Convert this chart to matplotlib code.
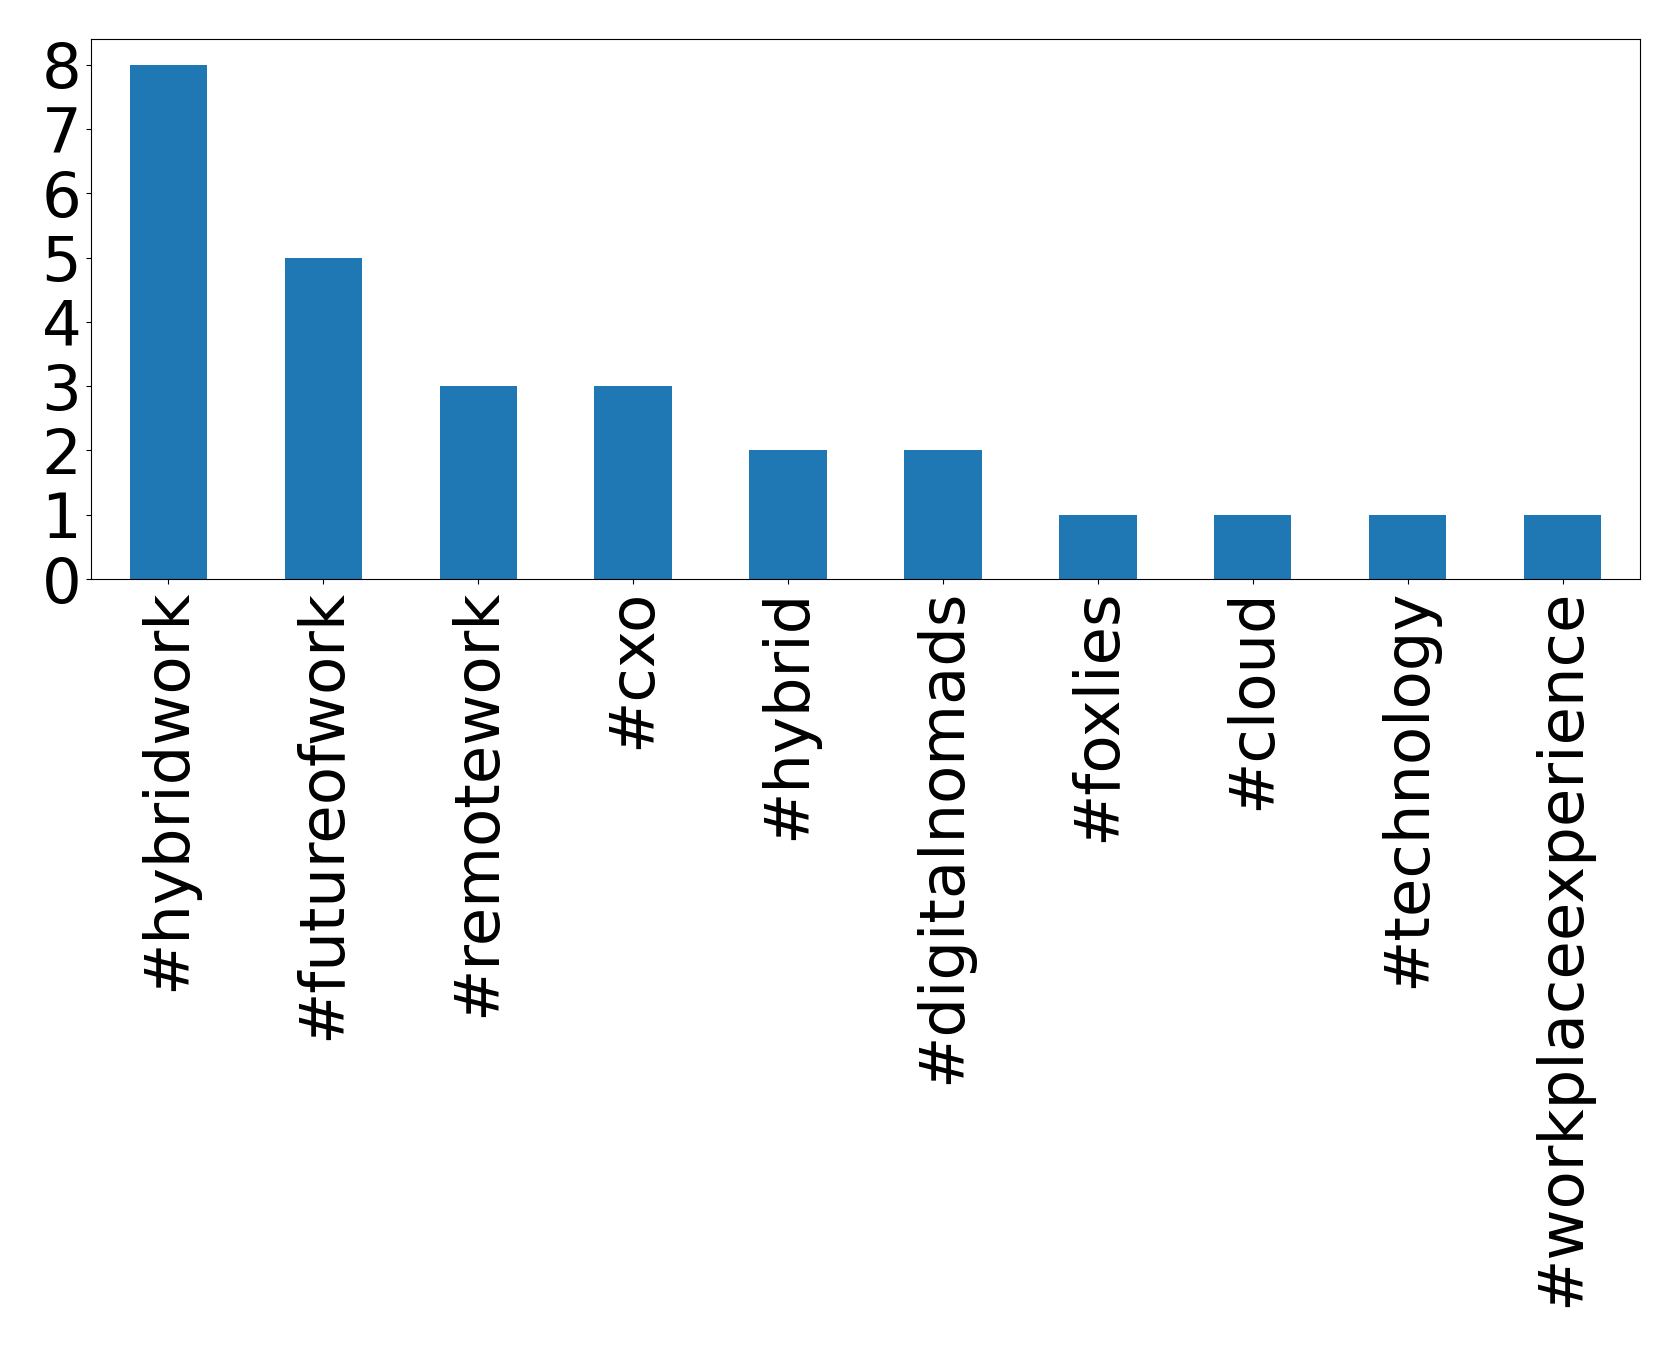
import numpy as np
import pandas as pd
from matplotlib import pyplot as plt

tags = ['#hybridwork', '#futureofwork', '#remotework', '#cxo', '#hybrid',
        '#digitalnomads', '#foxlies', '#cloud', '#technology',
        '#workplaceexperience']
counts = [8, 5, 3, 3, 2, 2, 1, 1, 1, 1]

fig = plt.figure(figsize=(16.79, 13.47), dpi=100)
ax = fig.add_axes([91 / 1679, 1 - 579 / 1347, (1640 - 91) / 1679, (579 - 39) / 1347])
pd.Series(counts, index=tags).plot(kind='bar', ax=ax, color='#1f77b4', fontsize=45)
ax.set_yticks(range(0, 9))
plt.savefig('out.png', dpi=100)
